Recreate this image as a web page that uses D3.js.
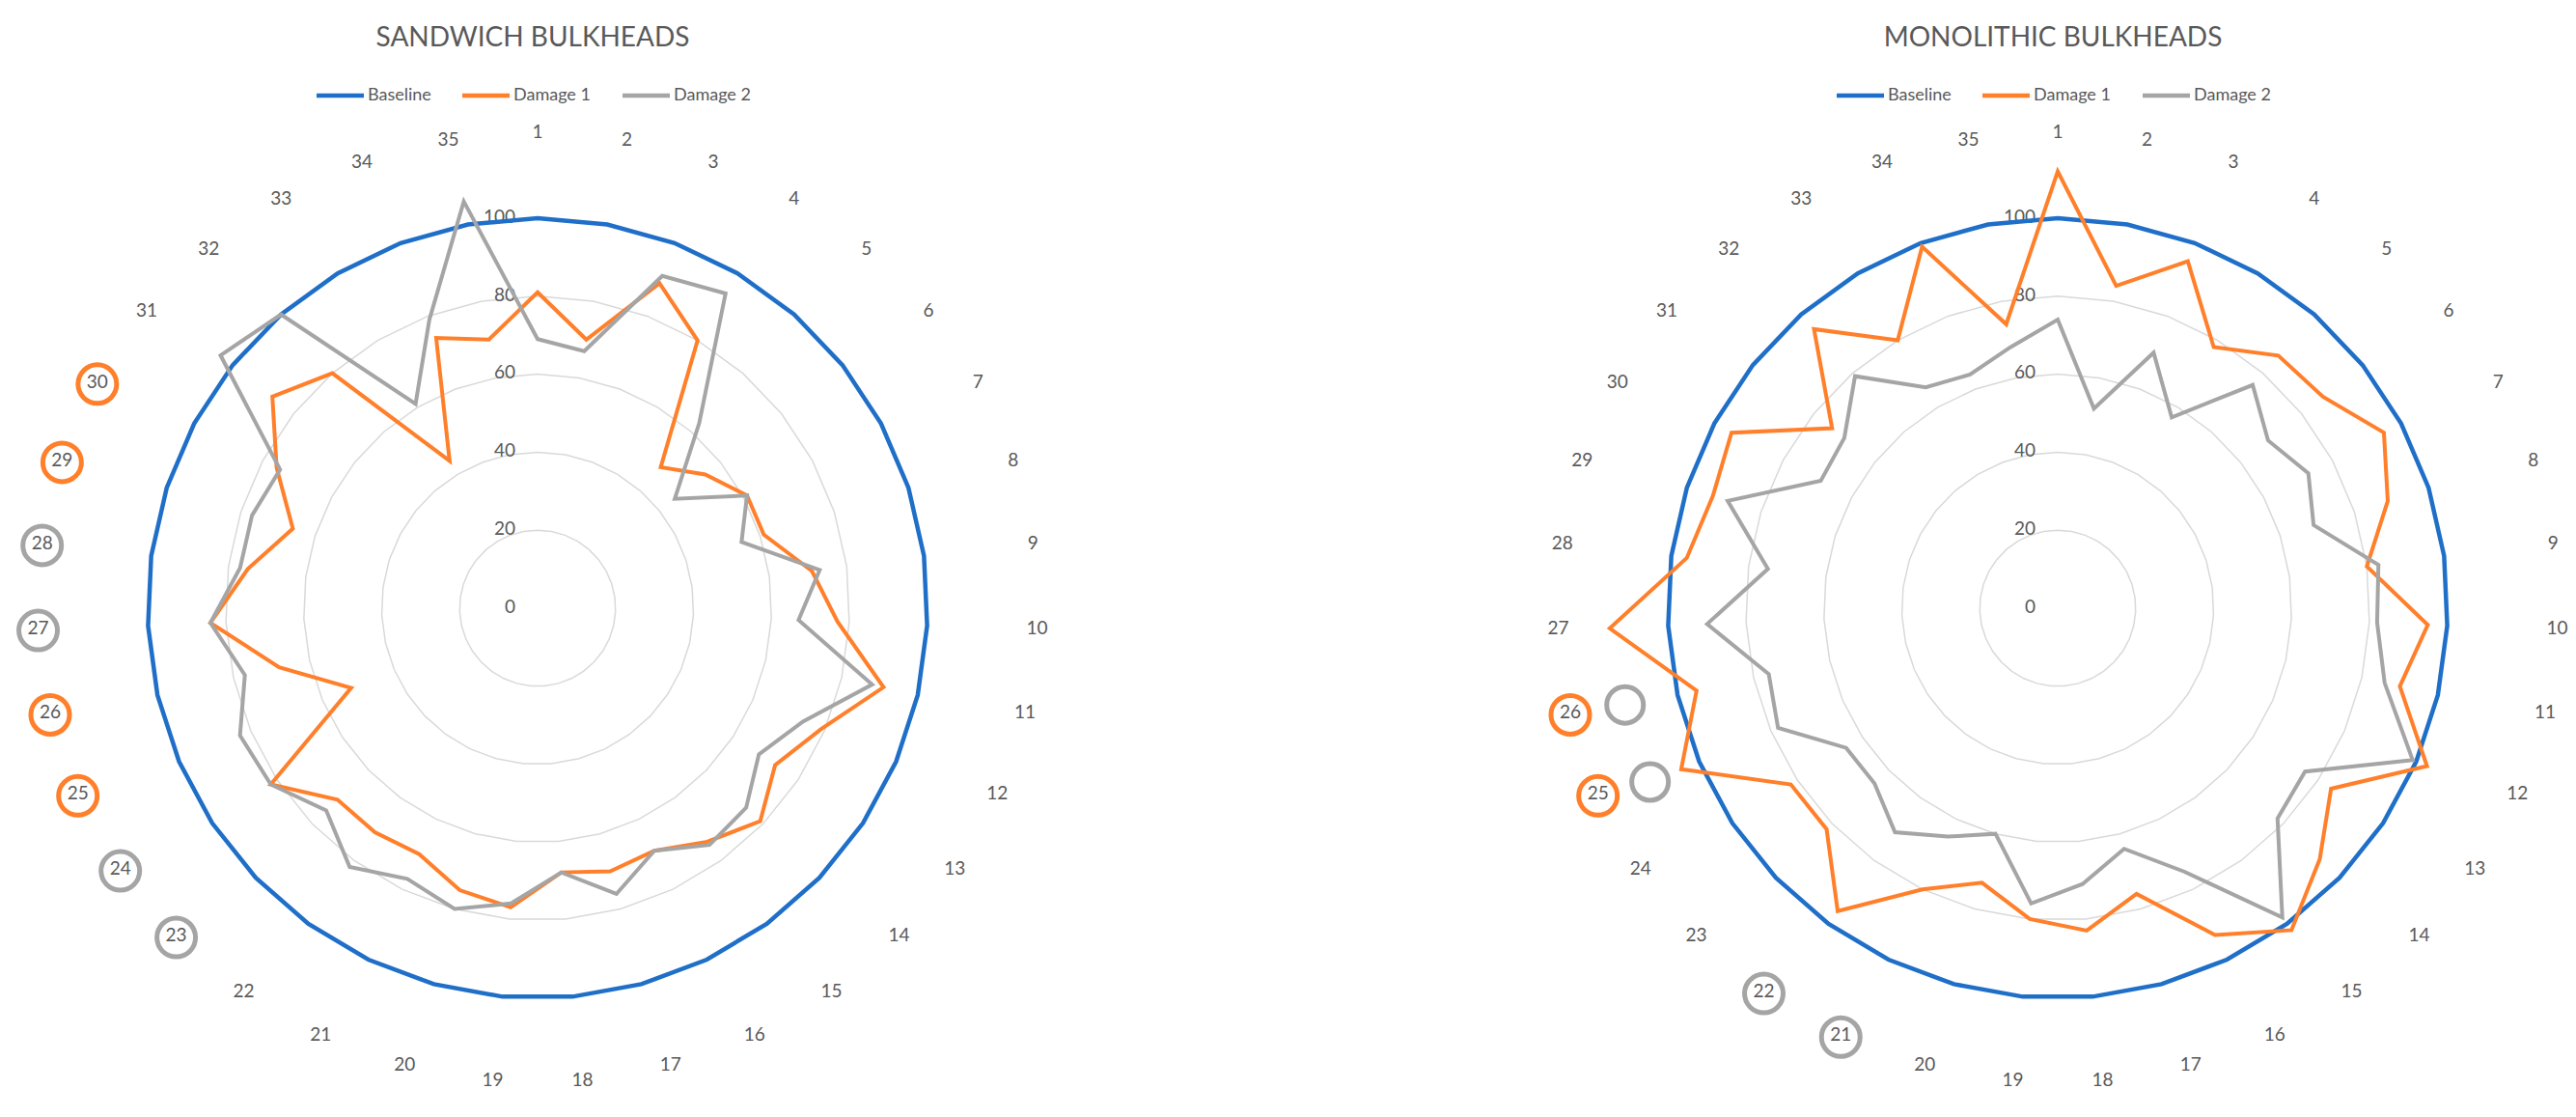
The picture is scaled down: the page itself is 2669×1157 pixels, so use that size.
<!DOCTYPE html>
<html>
<head>
<meta charset="utf-8">
<script src="https://cdn.jsdelivr.net/npm/d3@7"></script>
<style>
  body { margin: 0; background: #fff; }
  text { font-family: Lato, "Open Sans", sans-serif; fill: #595959; }
</style>
</head>
<body>
<svg id="chart" width="2669" height="1157"></svg>
<script>
// Data =======================================================================

const categories = d3.range(1, 36).map(String);
const ticks = [0, 20, 40, 60, 80, 100];
const seriesNames = ["Baseline", "Damage 1", "Damage 2"];

const sandwichBaseline = categories.map(() => 100);
const sandwichDamage1 = [81, 70, 89, 80, 48, 55, 61, 61, 71, 77, 91, 79, 73, 79, 74, 69, 70, 68,
  77, 75, 70, 71, 71, 82, 52, 68, 84, 75, 66, 76, 87, 80, 44, 74, 70];
const sandwichDamage2 = [69, 67, 91, 94, 63, 45, 61, 55, 73, 67, 88, 74, 68, 74, 75, 69, 76, 68,
  76, 80, 77, 82, 75, 82, 83, 77, 84, 77, 77, 75, 104, 100, 61, 79, 106];

const monoBaseline = categories.map(() => 100);
const monoDamage1 = [112, 84, 95, 78, 86, 87, 95, 89, 80, 95, 90, 103, 84, 93, 102, 93, 76, 83,
  80, 73, 80, 96, 82, 82, 105, 95, 115, 96, 93, 95, 74, 95, 80, 99, 74];
const monoDamage2 = [74, 52, 70, 57, 76, 69, 73, 69, 83, 82, 86, 99, 76, 78, 98, 75, 64, 71,
  76, 60, 65, 71, 65, 65, 78, 76, 90, 75, 89, 69, 70, 79, 66, 64, 68];

// annotation rings: [category, colour index]
const sandwichMarks = [[30, 1], [29, 1], [28, 2], [27, 2], [26, 1], [25, 1], [24, 2], [23, 2]];
const monoMarks = [[26, 1], [25, 1], [22, 2], [21, 2]];
const monoEmptyMarks = [26, 25];

// Layout =====================================================================

const colors = ["#1F6FC8", "#FF7F2A", "#A5A5A5"];
const R = 404;
const svg = d3.select("#chart");

function radar(cx, cy, title, series, marks, emptyMarks) {
  const g = svg.append("g").attr("transform", `translate(${cx},${cy})`);
  const r = d3.scaleLinear().domain([0, 100]).range([0, R]);
  const a = d3.scaleLinear().domain([0, categories.length]).range([0, 2 * Math.PI]);

  // grid rings
  const ring = d3.lineRadial().curve(d3.curveLinearClosed);
  g.selectAll(".grid").data(ticks.slice(1)).enter().append("path")
    .attr("d", t => ring(categories.map((c, i) => [a(i), r(t)])))
    .attr("fill", "none").attr("stroke", "#D9D9D9").attr("stroke-width", 1.5);

  // tick labels
  g.selectAll(".tick").data(ticks).enter().append("text")
    .attr("x", -23).attr("y", t => -r(t))
    .attr("text-anchor", "end").attr("dominant-baseline", "middle")
    .attr("font-size", 19).text(t => t);

  // series
  const line = d3.lineRadial().curve(d3.curveLinearClosed)
    .angle((d, i) => a(i)).radius(d => r(d));
  g.selectAll(".series").data(series).enter().append("path")
    .attr("d", d => line(d))
    .attr("fill", "none")
    .attr("stroke", (d, i) => colors[i])
    .attr("stroke-width", (d, i) => i === 0 ? 4.5 : 4)
    .attr("stroke-linejoin", "miter");

  // category labels
  const lx = i => 518 * Math.sin(a(i)), ly = i => -492 * Math.cos(a(i));
  g.selectAll(".cat").data(categories).enter().append("text")
    .attr("x", (d, i) => lx(i)).attr("y", (d, i) => ly(i))
    .attr("text-anchor", "middle").attr("dominant-baseline", "middle")
    .attr("font-size", 19).text(d => d);

  // ring marks
  g.selectAll(".mark").data(marks).enter().append("circle")
    .attr("cx", d => lx(d[0] - 1)).attr("cy", d => ly(d[0] - 1) + 1)
    .attr("r", 20).attr("fill", "none")
    .attr("stroke", d => colors[d[1]]).attr("stroke-width", 5);
  g.selectAll(".empty").data(emptyMarks).enter().append("circle")
    .attr("cx", d => 468 * Math.sin(a(d - 1)) + 8)
    .attr("cy", d => -468 * Math.cos(a(d - 1)) - 4)
    .attr("r", 19).attr("fill", "none")
    .attr("stroke", colors[2]).attr("stroke-width", 5);

  // title + legend
  g.append("text").attr("x", -5).attr("y", 41 - cy)
    .attr("text-anchor", "middle").attr("dominant-baseline", "middle")
    .attr("font-size", 28).text(title);
  const offs = [-229, -78, 88];
  const leg = g.selectAll(".leg").data(seriesNames).enter().append("g")
    .attr("transform", (d, i) => `translate(${offs[i]},${99 - cy})`);
  leg.append("line").attr("x1", 0).attr("x2", 49)
    .attr("stroke", (d, i) => colors[i]).attr("stroke-width", 4.5);
  leg.append("text").attr("x", 53).attr("dominant-baseline", "middle")
    .attr("font-size", 18).text(d => d);
}

radar(557, 630, "SANDWICH BULKHEADS",
  [sandwichBaseline, sandwichDamage1, sandwichDamage2], sandwichMarks, []);
radar(2132, 630, "MONOLITHIC BULKHEADS",
  [monoBaseline, monoDamage1, monoDamage2], monoMarks, monoEmptyMarks);
</script>
</body>
</html>
